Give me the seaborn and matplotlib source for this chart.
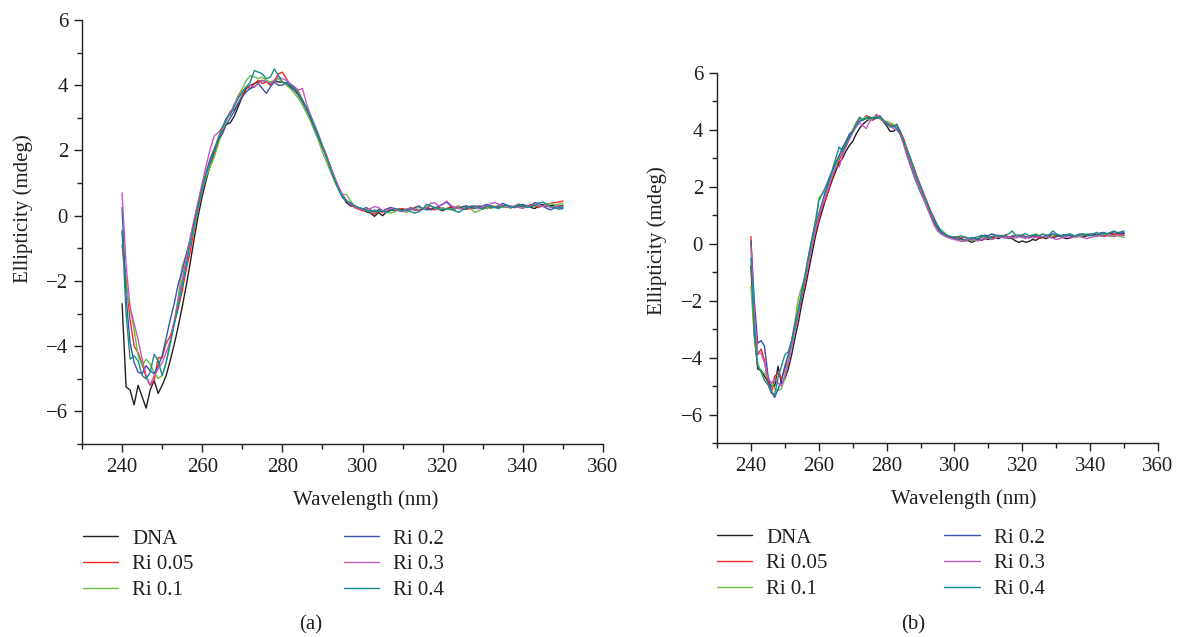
import numpy as np
import pandas as pd
import matplotlib
matplotlib.use('Agg')
import matplotlib.pyplot as plt
import seaborn as sns
from matplotlib.ticker import MultipleLocator

# wavelength grid, 1 nm steps
wavelength = np.arange(240, 351)

samples = ['DNA', 'Ri 0.05', 'Ri 0.1', 'Ri 0.2', 'Ri 0.3', 'Ri 0.4']
colors = ['#231f20', '#ee2a24', '#6dbe45', '#3a53a4', '#bd5cba', '#1b8a8c']

# ---- panel (a) ----
dna_a = [-2.70, -5.25, -5.35, -5.80, -5.20, -5.55, -5.90, -5.35, -5.05, -5.45,
         -5.20, -4.90, -4.45, -3.95, -3.40, -2.80, -2.15, -1.45, -0.70, 0.00,
         0.60, 1.10, 1.55, 1.95, 2.30, 2.60, 2.80, 2.85, 3.05, 3.35,
         3.65, 3.90, 4.00, 4.05, 4.10, 4.15, 4.10, 4.05, 4.15, 4.10,
         4.10, 4.05, 3.95, 3.85, 3.70, 3.50, 3.30, 3.00, 2.70, 2.40,
         2.10, 1.80, 1.50, 1.15, 0.85, 0.60, 0.40, 0.30, 0.28, 0.22,
         0.18, 0.12, 0.08, -0.02, 0.10, 0.00, 0.12, 0.18, 0.15, 0.20,
         0.18, 0.15, 0.20, 0.22, 0.15, 0.20, 0.25, 0.18, 0.22, 0.20,
         0.15, 0.22, 0.25, 0.20, 0.28, 0.22, 0.20, 0.25, 0.28, 0.22,
         0.25, 0.30, 0.22, 0.28, 0.25, 0.30, 0.32, 0.28, 0.25, 0.30,
         0.28, 0.32, 0.25, 0.22, 0.30, 0.35, 0.28, 0.32, 0.30, 0.28,
         0.32]
ri005_a = [-0.90, -2.00, -3.20, -4.00, -4.20, -4.55, -4.95, -5.20, -5.05, -4.35,
           -4.35, -3.90, -3.70, -3.30, -2.85, -2.30, -1.65, -1.10, -0.40, 0.20,
           0.75, 1.20, 1.55, 1.85, 2.25, 2.60, 2.95, 3.20, 3.25, 3.45,
           3.70, 3.95, 3.90, 4.05, 4.15, 4.05, 4.10, 4.00, 4.15, 4.35,
           4.40, 4.20, 4.00, 3.95, 3.80, 3.55, 3.30, 3.05, 2.75, 2.45,
           2.15, 1.85, 1.50, 1.15, 0.85, 0.60, 0.45, 0.35, 0.25, 0.20,
           0.15, 0.20, 0.10, 0.05, 0.15, 0.10, 0.20, 0.25, 0.15, 0.20,
           0.22, 0.18, 0.25, 0.20, 0.15, 0.22, 0.28, 0.20, 0.18, 0.25,
           0.22, 0.20, 0.28, 0.25, 0.30, 0.22, 0.25, 0.20, 0.28, 0.30,
           0.25, 0.22, 0.30, 0.28, 0.25, 0.32, 0.28, 0.25, 0.30, 0.35,
           0.30, 0.28, 0.35, 0.30, 0.25, 0.32, 0.35, 0.38, 0.40, 0.42,
           0.45]
ri01_a = [-0.50, -2.20, -2.80, -3.50, -4.30, -4.60, -4.40, -4.55, -4.80, -5.00,
          -4.90, -4.50, -3.95, -3.30, -2.50, -1.55, -1.20, -0.85, -0.35, 0.25,
          0.80, 1.20, 1.50, 1.80, 2.20, 2.55, 2.90, 3.15, 3.40, 3.70,
          3.90, 4.15, 4.30, 4.25, 4.20, 4.25, 4.15, 4.10, 4.15, 4.20,
          4.10, 4.00, 3.90, 3.75, 3.60, 3.40, 3.15, 2.90, 2.60, 2.30,
          1.95, 1.65, 1.35, 1.05, 0.80, 0.65, 0.65, 0.45, 0.30, 0.25,
          0.20, 0.15, 0.18, 0.10, 0.20, 0.15, 0.10, 0.08, 0.12, 0.18,
          0.15, 0.10, 0.18, 0.22, 0.25, 0.20, 0.28, 0.30, 0.22, 0.20,
          0.25, 0.20, 0.18, 0.22, 0.28, 0.25, 0.30, 0.22, 0.10, 0.15,
          0.20, 0.25, 0.22, 0.28, 0.30, 0.25, 0.28, 0.22, 0.30, 0.28,
          0.25, 0.30, 0.28, 0.32, 0.30, 0.28, 0.35, 0.38, 0.32, 0.35,
          0.38]
ri02_a = [0.25, -2.50, -3.90, -4.50, -4.80, -4.85, -4.60, -4.75, -4.85, -4.60,
          -4.30, -3.75, -3.20, -2.70, -2.10, -1.70, -1.20, -0.70, -0.15, 0.40,
          0.85, 1.35, 1.75, 2.05, 2.35, 2.50, 2.80, 3.00, 3.20, 3.45,
          3.65, 3.80, 3.90, 3.95, 4.05, 3.90, 3.75, 3.95, 4.10, 4.00,
          4.00, 4.10, 3.95, 3.85, 3.70, 3.50, 3.25, 3.00, 2.70, 2.40,
          2.10, 1.80, 1.45, 1.15, 0.85, 0.60, 0.45, 0.35, 0.30, 0.25,
          0.20, 0.25, 0.15, 0.12, 0.18, 0.15, 0.20, 0.25, 0.22, 0.18,
          0.15, 0.20, 0.18, 0.25, 0.30, 0.22, 0.18, 0.20, 0.25, 0.28,
          0.35, 0.42, 0.30, 0.25, 0.22, 0.28, 0.30, 0.25, 0.22, 0.28,
          0.30, 0.35, 0.28, 0.25, 0.30, 0.38, 0.32, 0.28, 0.25, 0.30,
          0.35, 0.28, 0.30, 0.40, 0.38, 0.30, 0.22, 0.18, 0.25, 0.20,
          0.22]
ri03_a = [0.70, -1.50, -2.80, -3.30, -3.80, -4.40, -4.90, -5.20, -4.90, -4.70,
          -4.50, -4.20, -3.85, -3.25, -2.60, -1.95, -1.30, -0.70, -0.10, 0.45,
          1.00, 1.55, 2.05, 2.45, 2.55, 2.70, 2.95, 3.15, 3.40, 3.65,
          3.80, 3.95, 4.00, 3.95, 4.05, 4.15, 4.10, 4.05, 4.15, 4.25,
          4.20, 4.15, 4.05, 3.95, 3.85, 3.90, 3.45, 3.10, 2.80, 2.50,
          2.15, 1.85, 1.50, 1.20, 0.90, 0.65, 0.48, 0.35, 0.28, 0.22,
          0.20, 0.18, 0.22, 0.28, 0.25, 0.15, 0.18, 0.22, 0.20, 0.15,
          0.12, 0.18, 0.22, 0.15, 0.18, 0.20, 0.25, 0.38, 0.40, 0.30,
          0.35, 0.45, 0.32, 0.25, 0.22, 0.20, 0.25, 0.30, 0.28, 0.22,
          0.28, 0.30, 0.38, 0.40, 0.35, 0.28, 0.25, 0.30, 0.28, 0.25,
          0.22, 0.28, 0.30, 0.35, 0.32, 0.28, 0.30, 0.25, 0.28, 0.30,
          0.28]
ri04_a = [-0.45, -3.00, -4.40, -4.30, -4.45, -4.90, -5.00, -4.80, -4.25, -4.45,
          -4.90, -4.50, -3.90, -3.35, -2.75, -2.15, -1.50, -0.85, -0.25, 0.30,
          0.85, 1.30, 1.65, 2.00, 2.40, 2.70, 3.00, 3.10, 3.35, 3.60,
          3.80, 3.95, 4.10, 4.45, 4.40, 4.35, 4.20, 4.25, 4.50, 4.30,
          4.10, 4.05, 4.00, 3.90, 3.75, 3.55, 3.30, 3.05, 2.75, 2.45,
          2.10, 1.80, 1.45, 1.10, 0.80, 0.55, 0.45, 0.40, 0.30, 0.25,
          0.22, 0.15, 0.10, 0.18, 0.12, 0.15, 0.10, 0.15, 0.22, 0.18,
          0.15, 0.20, 0.12, 0.08, 0.12, 0.20, 0.35, 0.30, 0.25, 0.20,
          0.18, 0.22, 0.20, 0.15, 0.10, 0.18, 0.25, 0.28, 0.30, 0.25,
          0.20, 0.28, 0.30, 0.25, 0.22, 0.30, 0.32, 0.25, 0.28, 0.35,
          0.30, 0.25, 0.28, 0.32, 0.38, 0.42, 0.35, 0.28, 0.22, 0.25,
          0.25]

# ---- panel (b) ----
dna_b = [-0.80, -3.20, -4.40, -4.45, -4.65, -4.85, -5.00, -5.00, -4.30, -4.90,
         -4.75, -4.40, -3.90, -3.30, -2.75, -2.10, -1.55, -0.95, -0.35, 0.25,
         0.75, 1.15, 1.55, 1.90, 2.25, 2.55, 2.85, 3.00, 3.25, 3.45,
         3.60, 3.85, 4.05, 4.20, 4.30, 4.40, 4.35, 4.45, 4.40, 4.30,
         4.15, 3.95, 3.95, 4.05, 3.85, 3.55, 3.25, 2.90, 2.55, 2.25,
         1.95, 1.65, 1.35, 1.05, 0.80, 0.55, 0.40, 0.30, 0.25, 0.22,
         0.20, 0.18, 0.15, 0.10, 0.12, 0.05, 0.10, 0.15, 0.12, 0.18,
         0.15, 0.20, 0.22, 0.18, 0.25, 0.30, 0.22, 0.18, 0.10, 0.05,
         0.10, 0.05, 0.08, 0.15, 0.12, 0.20, 0.22, 0.18, 0.25, 0.22,
         0.25, 0.28, 0.22, 0.18, 0.20, 0.25, 0.28, 0.30, 0.25, 0.28,
         0.30, 0.35, 0.32, 0.28, 0.30, 0.35, 0.38, 0.32, 0.35, 0.38,
         0.35]
ri005_b = [0.25, -2.80, -3.90, -3.70, -4.10, -4.90, -5.25, -4.65, -4.55, -4.75,
           -4.40, -4.10, -3.55, -3.00, -2.45, -1.85, -1.30, -0.70, -0.05, 0.40,
           0.85, 1.30, 1.55, 1.95, 2.35, 2.65, 2.95, 3.20, 3.40, 3.70,
           3.95, 4.25, 4.40, 4.35, 4.50, 4.45, 4.35, 4.55, 4.40, 4.30,
           4.25, 4.20, 4.15, 4.10, 3.95, 3.70, 3.35, 3.00, 2.70, 2.35,
           2.05, 1.75, 1.45, 1.15, 0.90, 0.65, 0.45, 0.35, 0.28, 0.22,
           0.25, 0.22, 0.20, 0.25, 0.18, 0.15, 0.20, 0.12, 0.15, 0.22,
           0.25, 0.20, 0.28, 0.30, 0.25, 0.30, 0.22, 0.28, 0.30, 0.25,
           0.30, 0.25, 0.22, 0.28, 0.25, 0.20, 0.22, 0.28, 0.30, 0.25,
           0.28, 0.30, 0.25, 0.30, 0.32, 0.28, 0.25, 0.30, 0.28, 0.32,
           0.30, 0.28, 0.32, 0.35, 0.30, 0.28, 0.32, 0.35, 0.30, 0.33,
           0.30]
ri01_b = [-1.50, -3.30, -4.20, -4.50, -4.55, -4.70, -4.90, -5.10, -5.15, -5.10,
          -4.70, -4.10, -3.45, -2.70, -1.90, -1.50, -1.20, -0.60, 0.00, 0.50,
          1.60, 1.75, 1.85, 2.10, 2.40, 2.75, 3.05, 3.40, 3.55, 3.80,
          4.00, 4.25, 4.35, 4.40, 4.45, 4.35, 4.45, 4.50, 4.40, 4.30,
          4.30, 4.25, 4.20, 4.10, 3.90, 3.60, 3.30, 2.95, 2.60, 2.30,
          1.95, 1.65, 1.35, 1.05, 0.80, 0.60, 0.50, 0.40, 0.30, 0.25,
          0.20, 0.18, 0.12, 0.15, 0.20, 0.10, 0.15, 0.20, 0.25, 0.18,
          0.22, 0.15, 0.20, 0.25, 0.30, 0.22, 0.18, 0.25, 0.28, 0.30,
          0.25, 0.22, 0.28, 0.30, 0.35, 0.28, 0.25, 0.30, 0.22, 0.28,
          0.30, 0.25, 0.28, 0.32, 0.30, 0.25, 0.22, 0.28, 0.30, 0.35,
          0.32, 0.28, 0.25, 0.30, 0.35, 0.30, 0.25, 0.28, 0.30, 0.25,
          0.22]
ri02_b = [0.10, -2.00, -3.50, -3.40, -3.60, -4.60, -5.20, -5.40, -5.10, -4.80,
          -4.30, -3.90, -3.40, -2.85, -2.35, -1.75, -1.10, -0.45, 0.15, 0.60,
          1.05, 1.45, 1.85, 2.20, 2.55, 2.85, 3.10, 3.35, 3.60, 3.85,
          3.95, 4.15, 4.30, 4.35, 4.40, 4.45, 4.40, 4.40, 4.50, 4.35,
          4.20, 4.15, 4.10, 4.20, 3.95, 3.55, 3.10, 2.75, 2.40, 2.10,
          1.80, 1.55, 1.25, 1.00, 0.75, 0.55, 0.40, 0.30, 0.25, 0.22,
          0.18, 0.15, 0.20, 0.12, 0.15, 0.22, 0.18, 0.15, 0.25, 0.30,
          0.28, 0.35, 0.30, 0.25, 0.28, 0.22, 0.20, 0.25, 0.28, 0.30,
          0.22, 0.25, 0.20, 0.28, 0.30, 0.25, 0.22, 0.28, 0.30, 0.35,
          0.30, 0.25, 0.32, 0.30, 0.28, 0.25, 0.30, 0.35, 0.32, 0.30,
          0.35, 0.30, 0.32, 0.38, 0.40, 0.35, 0.38, 0.42, 0.40, 0.35,
          0.40]
ri03_b = [-0.10, -2.50, -3.80, -3.85, -4.20, -4.70, -4.90, -4.75, -4.90, -5.00,
          -4.60, -4.20, -3.60, -3.00, -2.40, -1.75, -1.20, -0.60, 0.00, 0.50,
          0.95, 1.35, 1.70, 2.05, 2.45, 2.70, 2.70, 3.10, 3.45, 3.65,
          3.90, 4.10, 4.25, 4.15, 4.05, 4.30, 4.40, 4.50, 4.45, 4.30,
          4.25, 4.15, 4.05, 4.00, 3.85, 3.50, 3.10, 2.80, 2.45, 2.15,
          1.85, 1.55, 1.25, 0.95, 0.65, 0.45, 0.35, 0.28, 0.22, 0.18,
          0.15, 0.12, 0.08, 0.10, 0.15, 0.18, 0.12, 0.10, 0.15, 0.20,
          0.18, 0.15, 0.20, 0.25, 0.22, 0.20, 0.25, 0.22, 0.20, 0.25,
          0.22, 0.18, 0.25, 0.20, 0.22, 0.28, 0.25, 0.30, 0.22, 0.20,
          0.15, 0.18, 0.22, 0.25, 0.20, 0.22, 0.28, 0.25, 0.22, 0.18,
          0.22, 0.25, 0.28, 0.30, 0.25, 0.28, 0.30, 0.25, 0.28, 0.30,
          0.28]
ri04_b = [-0.50, -3.10, -4.30, -4.50, -4.80, -4.95, -5.20, -5.30, -4.70, -4.30,
          -3.90, -3.80, -3.40, -2.85, -2.25, -1.65, -1.05, -0.40, 0.20, 0.80,
          1.50, 1.75, 2.00, 2.30, 2.60, 3.00, 3.40, 3.25, 3.50, 3.75,
          3.95, 4.20, 4.45, 4.35, 4.40, 4.45, 4.40, 4.45, 4.45, 4.35,
          4.25, 4.10, 4.15, 4.05, 3.90, 3.60, 3.30, 3.00, 2.65, 2.30,
          2.00, 1.70, 1.40, 1.10, 0.85, 0.65, 0.45, 0.35, 0.28, 0.25,
          0.22, 0.25, 0.28, 0.22, 0.20, 0.18, 0.22, 0.25, 0.30, 0.25,
          0.20, 0.25, 0.30, 0.28, 0.25, 0.30, 0.35, 0.45, 0.30, 0.28,
          0.32, 0.35, 0.28, 0.30, 0.32, 0.28, 0.35, 0.30, 0.32, 0.45,
          0.35, 0.30, 0.28, 0.32, 0.35, 0.30, 0.28, 0.32, 0.35, 0.30,
          0.28, 0.35, 0.40, 0.32, 0.38, 0.35, 0.40, 0.45, 0.38, 0.42,
          0.45]

panel_a = [dna_a, ri005_a, ri01_a, ri02_a, ri03_a, ri04_a]
panel_b = [dna_b, ri005_b, ri01_b, ri02_b, ri03_b, ri04_b]


def to_long(series_list):
    frames = []
    for name, vals in zip(samples, series_list):
        assert len(vals) == len(wavelength), (name, len(vals))
        frames.append(pd.DataFrame({'wavelength': wavelength,
                                    'ellipticity': vals,
                                    'sample': name}))
    return pd.concat(frames, ignore_index=True)


sns.set_style('ticks')
plt.rcParams['font.family'] = ['Liberation Serif', 'DejaVu Serif']
text_col = '#231f20'
plt.rcParams['text.color'] = text_col
plt.rcParams['axes.labelcolor'] = text_col
plt.rcParams['xtick.color'] = text_col
plt.rcParams['ytick.color'] = text_col
FS = 15

W, H = 1189, 637
fig = plt.figure(figsize=(W / 100, H / 100), dpi=100)

# axes boxes in pixels: left, right, top, bottom
boxes = {'a': (82, 603, 20, 444), 'b': (717, 1158, 73, 443)}
ylab_pos = {'a': (23, 209), 'b': (657, 241)}
xlab_pos = {'a': (366, 500), 'b': (964, 499)}
cap_pos = {'a': (311, 625), 'b': (913, 625)}
leg_pos = {'a': (83, 529), 'b': (717, 528)}
col_space = {'a': 7.2, 'b': 5.6}

palette = dict(zip(samples, colors))

for key, data in (('a', panel_a), ('b', panel_b)):
    l, r, t, b = boxes[key]
    ax = fig.add_axes([l / W, 1 - b / H, (r - l) / W, (b - t) / H])
    df = to_long(data)
    sns.lineplot(data=df, x='wavelength', y='ellipticity', hue='sample',
                 hue_order=samples, palette=palette, estimator=None,
                 linewidth=1.0, legend=False, ax=ax)
    ax.set_xlim(230, 360)
    ax.set_ylim(-7, 6)
    ax.xaxis.set_major_locator(MultipleLocator(20))
    ax.xaxis.set_minor_locator(MultipleLocator(10))
    ax.yaxis.set_major_locator(MultipleLocator(2))
    ax.yaxis.set_minor_locator(MultipleLocator(1))
    ax.tick_params(which='major', length=6, width=1, labelsize=FS, pad=4)
    ax.tick_params(which='minor', length=3.5, width=1)
    sns.despine(ax=ax)
    for s in ('left', 'bottom'):
        ax.spines[s].set_color(text_col)
        ax.spines[s].set_linewidth(1)
    ax.set_xlabel('')
    ax.set_ylabel('')

    fig.text(xlab_pos[key][0] / W, 1 - xlab_pos[key][1] / H, 'Wavelength (nm)',
             ha='center', va='center', fontsize=FS)
    fig.text(ylab_pos[key][0] / W, 1 - ylab_pos[key][1] / H, 'Ellipticity (mdeg)',
             ha='center', va='center', rotation=90, fontsize=FS)
    fig.text(cap_pos[key][0] / W, 1 - cap_pos[key][1] / H, '(' + key + ')',
             ha='center', va='center', fontsize=FS)

    handles = ax.get_lines()[:len(samples)]
    ax.legend(handles, samples, loc='upper left',
              bbox_to_anchor=(leg_pos[key][0] / W, 1 - leg_pos[key][1] / H),
              bbox_transform=fig.transFigure, ncol=2, frameon=False,
              fontsize=FS, handlelength=1.7, handletextpad=0.67,
              columnspacing=col_space[key], labelspacing=0.3,
              borderpad=0, borderaxespad=0)

fig.savefig('out.png', dpi=100)
